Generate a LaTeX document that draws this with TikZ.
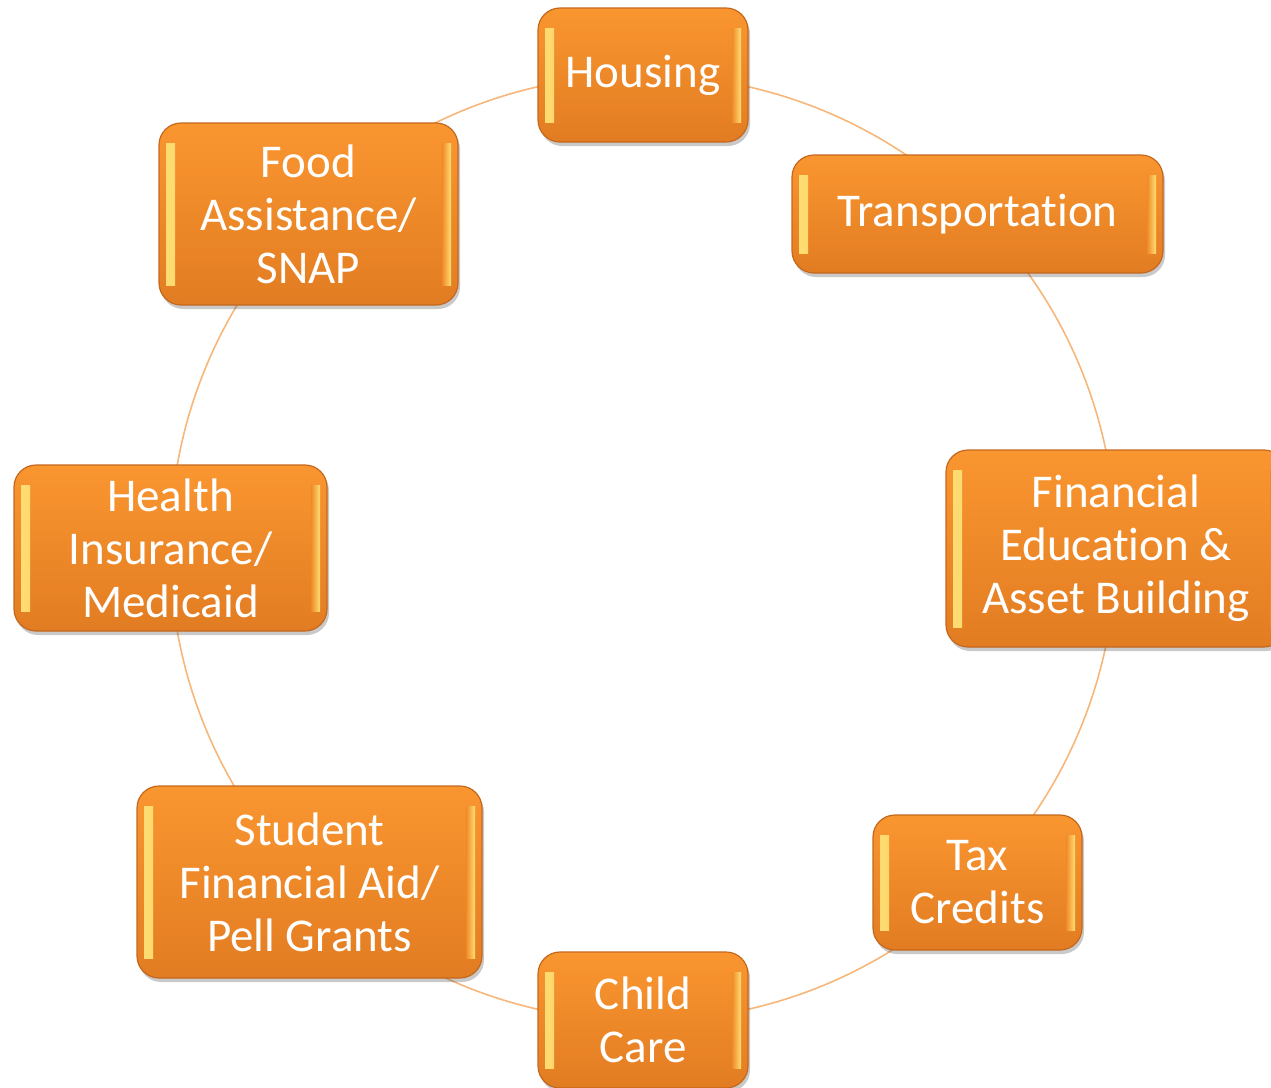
\documentclass[tikz,border=0pt]{standalone}
\usepackage{fontspec}
\setmainfont{Carlito}[RawFeature={-liga;-clig;-calt;-dlig}]
\usetikzlibrary{shadows}
\definecolor{otop}{RGB}{250,150,48}
\definecolor{obot}{RGB}{226,124,34}
\definecolor{omid}{RGB}{240,138,40}
\definecolor{obord}{RGB}{196,104,30}
\definecolor{ohl}{RGB}{255,222,115}
\definecolor{ring}{RGB}{247,182,122}
\tikzset{
  box/.style={rounded corners=22pt, draw=obord, line width=1.2pt,
    top color=otop, bottom color=obot, text=white, align=center,
    font=\fontsize{47}{53}\selectfont, inner sep=0pt,
    drop shadow={shadow xshift=2pt, shadow yshift=-4pt, opacity=0.3, fill=black!70},
    path picture={
      \shade[sharp corners, left color=ohl, right color=omid]
        ([xshift=7pt,yshift=-20pt]path picture bounding box.north west) rectangle
        ([xshift=16pt,yshift=20pt]path picture bounding box.south west);
      \shade[sharp corners, right color=ohl, left color=omid]
        ([xshift=-7pt,yshift=-20pt]path picture bounding box.north east) rectangle
        ([xshift=-16pt,yshift=20pt]path picture bounding box.south east);
    }},
  ringline/.style={draw=ring, line width=1.6pt}
}
\begin{document}
\begin{tikzpicture}[x=1pt,y=-1pt]
\useasboundingbox (0,0) rectangle (1271,1087);
\coordinate (c) at (643,548);
\draw[ringline] (c) circle[radius=473pt];
\node[box, minimum width=210pt, minimum height=134pt] (housing) at (643,75) {Housing};
\node[box, minimum width=371pt, minimum height=118pt] (transport) at (977.5,214) {Transportat\kern0pt ion};
\node[box, minimum width=340pt, minimum height=197pt] (fin) at (1116,548.5) {Financial\\Education \&\\Asset Building};
\node[box, minimum width=209pt, minimum height=135pt] (tax) at (977.5,882.5) {Tax\\Credits};
\node[box, minimum width=210pt, minimum height=136pt] (child) at (643,1020) {Child\\Care};
\node[box, minimum width=345pt, minimum height=192pt] (student) at (309.5,882) {Student\\Financial Aid/\\Pell Grants};
\node[box, minimum width=313pt, minimum height=166pt] (health) at (170.5,548) {Health\\Insurance/\\Medicaid};
\node[box, minimum width=299pt, minimum height=182pt] (food) at (308.5,214) {Food\\Assistance/\\SNAP};
\end{tikzpicture}
\end{document}
